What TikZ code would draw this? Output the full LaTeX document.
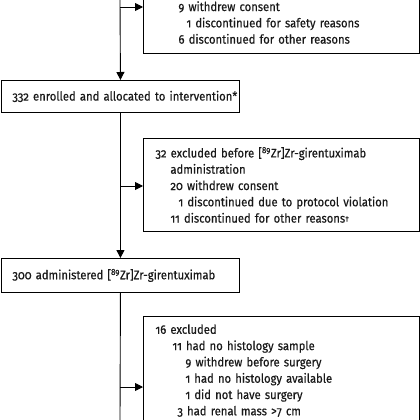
\documentclass[tikz,border=0pt]{standalone}
\usepackage{fontspec}
\setmainfont{Fira Sans}[Numbers=OldStyle, FakeStretch=0.9, FakeBold=0.35]
\usetikzlibrary{arrows.meta}

\begin{document}
\begin{tikzpicture}[x=1pt, y=-1pt, line width=0.9pt, >={Triangle[length=8pt,width=8pt]},
  flowbox/.style={draw, align=left, inner xsep=11pt, inner ysep=8pt, text=black!90,
    font=\fontsize{12.5}{16.3}\selectfont},
  leftbox/.style={flowbox, anchor=north west, text width=216pt},
  sidebox/.style={flowbox, inner xsep=12pt, text width=252pt}]
  \path[use as bounding box, fill=white] (0,0) rectangle (420,420);
  \clip (0,0) rectangle (420,420);
  \node[sidebox, anchor=south west, minimum height=62pt] (excl1) at (143,54)
    {\hspace*{23pt}9 withdrew consent\\
     \hspace*{31pt}1 discontinued for safety reasons\\
     \hspace*{23pt}6 discontinued for other reasons};
  \node[leftbox, minimum height=32pt] (enrolled) at (1,80)
    {\mbox{332 enrolled and allocated to intervention*}};
  \node[sidebox, anchor=north west, minimum height=93pt] (excl2) at (143,138)
    {32 excluded before [\textsuperscript{89}Zr]Zr-girentuximab\\
     \hspace*{15pt}administration\\
     \hspace*{15pt}20 withdrew consent\\
     \hspace*{23pt}1 discontinued due to protocol violation\\
     \hspace*{15pt}11 discontinued for other reasons\raisebox{1pt}{\footnotesize†}};
  \node[leftbox, minimum height=34pt] (administered) at (1,258)
    {\mbox{300 administered [\textsuperscript{89}Zr]Zr-girentuximab}};
  \node[sidebox, anchor=north west] (excl3) at (143,316)
    {16 excluded\\
     \hspace*{17pt}11 had no histology sample\\
     \hspace*{30pt}9 withdrew before surgery\\
     \hspace*{30pt}1 had no histology available\\
     \hspace*{30pt}1 did not have surgery\\
     \hspace*{22pt}3 had renal mass >7 cm};
  \coordinate (top) at (120,0);
  \coordinate (bottom) at (120,420);
  \coordinate (br1) at (120,7);
  \coordinate (br2) at (120,186);
  \coordinate (br3) at (120,387);
  \draw[->] (top) -- (enrolled.north);
  \draw[->] (enrolled.south) -- (administered.north);
  \draw (administered.south) -- (bottom);
  \draw[->] (br1) -- (br1 -| excl1.west);
  \draw[->] (br2) -- (br2 -| excl2.west);
  \draw[->] (br3) -- (br3 -| excl3.west);
\end{tikzpicture}
\end{document}
